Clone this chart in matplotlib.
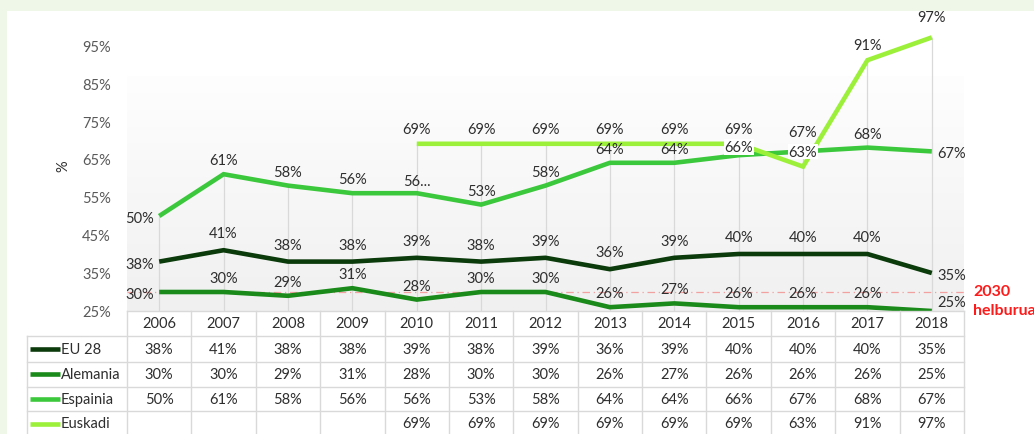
import numpy as np
import matplotlib
matplotlib.use("Agg")
import matplotlib.pyplot as plt
import matplotlib.transforms as mtransforms
from matplotlib.patches import Rectangle

plt.rcParams['font.family'] = ['Lato', 'DejaVu Sans']

years = ['2006', '2007', '2008', '2009', '2010', '2011', '2012',
         '2013', '2014', '2015', '2016', '2017', '2018']
series_names = ['EU 28', 'Alemania', 'Espainia', 'Euskadi']
eu28 = [38, 41, 38, 38, 39, 38, 39, 36, 39, 40, 40, 40, 35]
alemania = [30, 30, 29, 31, 28, 30, 30, 26, 27, 26, 26, 26, 25]
espainia = [50, 61, 58, 56, 56, 53, 58, 64, 64, 66, 67, 68, 67]
euskadi = [None, None, None, None, 69, 69, 69, 69, 69, 69, 63, 91, 97]
target_value = 30
target_label = ['2030', 'helburua']
yticks = [25, 35, 45, 55, 65, 75, 85, 95]

series = [eu28, alemania, espainia, euskadi]
colors = ['#0B3A0B', '#1A8A1A', '#3CC83C', '#9CF03A']
label_dy = [17, 14, 14, 15]          # px above point
txt_col = '#2E2E2E'
FS = 10.5

W, H = 1034, 435
fig = plt.figure(figsize=(W / 100, H / 100), dpi=100, facecolor='#EFF7E9')

# white panel
fig.patches.append(Rectangle((7 / W, 0), 1 - 7 / W, 1 - 12 / H,
                             transform=fig.transFigure, facecolor='white',
                             edgecolor='none', zorder=-5))

# pixel geometry
x0, x1 = 127, 964
ytop, ybot = 12, 312
ax = fig.add_axes([x0 / W, (H - ybot) / H, (x1 - x0) / W, (ybot - ytop) / H])
ax.set_facecolor('none')
n = len(years)
ppv = 3.8
for s in ax.spines.values():
    s.set_visible(False)
ax.set_xticks([])
ax.set_yticks(yticks)
ax.set_yticklabels([f'{v}%' for v in yticks], color='#595959', fontsize=FS)
ax.tick_params(axis='y', length=0, pad=11.5)

# overlay in pixel coords
ov = fig.add_axes([0, 0, 1, 1])
ov.set_xlim(0, W)
ov.set_ylim(H, 0)
ov.axis('off')
ov.set_zorder(5)
ov.patch.set_visible(False)

# gradient plot area
grad_top = 25 + (ybot - 77) / ppv
grad = np.linspace(0, 1, 256).reshape(-1, 1)
cmap = matplotlib.colors.LinearSegmentedColormap.from_list('g', ['#FEFEFE', '#F0F0F0'])
ax.imshow(grad, cmap=cmap, aspect='auto', extent=(-0.5, n - 0.5, 25, grad_top),
          origin='upper', zorder=0)
ax.set_xlim(-0.5, n - 0.5)
ax.set_ylim(25, 25 + (ybot - ytop) / ppv)

xs = np.arange(n)
vals = np.array([[np.nan if v is None else v for v in s] for s in series], dtype=float)

# drop lines
mx = np.nanmax(vals, axis=0)
ax.vlines(xs, 25, mx, color='#D9D9D9', lw=0.9, zorder=1)

# target line
ax.axhline(target_value, color='#F2A0A0', lw=0.9, ls=(0, (6, 3, 1, 3)), zorder=1.5)

# series lines
for i, v in enumerate(vals):
    ax.plot(xs, v, color=colors[i], lw=3.3, solid_capstyle='butt',
            solid_joinstyle='miter', zorder=3 + i * 0.1)

# data labels
offset_pt = lambda px: px * 0.72
for i, v in enumerate(vals):
    valid = [j for j in range(n) if not np.isnan(v[j])]
    for j in valid:
        txt = f'{int(v[j])}%'
        bbox = None
        dy = label_dy[i]
        if series_names[i] == 'Espainia' and years[j] == '2010':
            txt = f'{int(v[j])}...'
            dy = 12
        if series_names[i] == 'Espainia' and years[j] == '2015':
            dy = 8
            bbox = dict(facecolor='white', edgecolor='none', pad=0.5)
        if series_names[i] == 'Espainia' and years[j] == '2016':
            dy = 19
        if series_names[i] == 'Euskadi' and years[j] == '2016':
            bbox = dict(facecolor='white', edgecolor='none', pad=0.5)
        if series_names[i] == 'Euskadi' and years[j] == '2018':
            dy = 20
        if j == 0 and series_names[i] != 'Euskadi':
            ax.annotate(txt, (xs[j], v[j]), xytext=(-4, offset_pt(-2)),
                        textcoords='offset points', ha='right', va='center',
                        fontsize=FS, color=txt_col, zorder=6)
        elif j == n - 1 and series_names[i] != 'Euskadi':
            ddy = 9 if series_names[i] == 'Alemania' else -2
            ax.annotate(txt, (xs[j], v[j]), xytext=(4, offset_pt(ddy)),
                        textcoords='offset points', ha='left', va='center',
                        fontsize=FS, color=txt_col, zorder=6)
        else:
            ax.annotate(txt, (xs[j], v[j]), xytext=(0, offset_pt(dy)),
                        textcoords='offset points', ha='center', va='center',
                        fontsize=FS, color=txt_col, zorder=6, bbox=bbox,
                        annotation_clip=False)

# target label
ov.text(973, 292, target_label[0], color='#FF1A1A', fontsize=11.5, fontweight='bold',
        ha='left', va='center')
ov.text(973, 311, target_label[1], color='#FF1A1A', fontsize=11.5, fontweight='bold',
        ha='left', va='center')

# y label
ov.text(63, 166, '%', rotation=90, color=txt_col, fontsize=FS, ha='center', va='center')

# table
bt = mtransforms.blended_transform_factory(ax.transData, ov.transData)
rows = [312, 337, 362.5, 387.5, 412, 437]
gc = '#D9D9D9'
edges = np.arange(n + 1) - 0.5
for e in edges:
    ov.plot([e, e], [rows[0], rows[-1]], transform=bt, color=gc, lw=1, clip_on=False)
ov.plot([-0.5, n - 0.5], [rows[0], rows[0]], transform=bt, color=gc, lw=1)
for r in rows[1:]:
    ov.plot([27, x1], [r, r], color=gc, lw=1)
ov.plot([27, 27], [rows[1], rows[-1]], color=gc, lw=1)

for j, y in enumerate(years):
    ov.text(xs[j], (rows[0] + rows[1]) / 2, y, transform=bt, ha='center',
            va='center', fontsize=FS, color=txt_col)
for i, v in enumerate(vals):
    yc = (rows[i + 1] + rows[i + 2]) / 2
    ov.plot([30, 60], [yc, yc], color=colors[i], lw=3.3, solid_capstyle='butt')
    ov.text(61, yc, series_names[i], ha='left', va='center', fontsize=FS, color=txt_col)
    for j in range(n):
        if not np.isnan(v[j]):
            ov.text(xs[j], yc, f'{int(v[j])}%', transform=bt, ha='center',
                    va='center', fontsize=FS, color=txt_col)

fig.savefig('out.png', dpi=100, facecolor=fig.get_facecolor())
